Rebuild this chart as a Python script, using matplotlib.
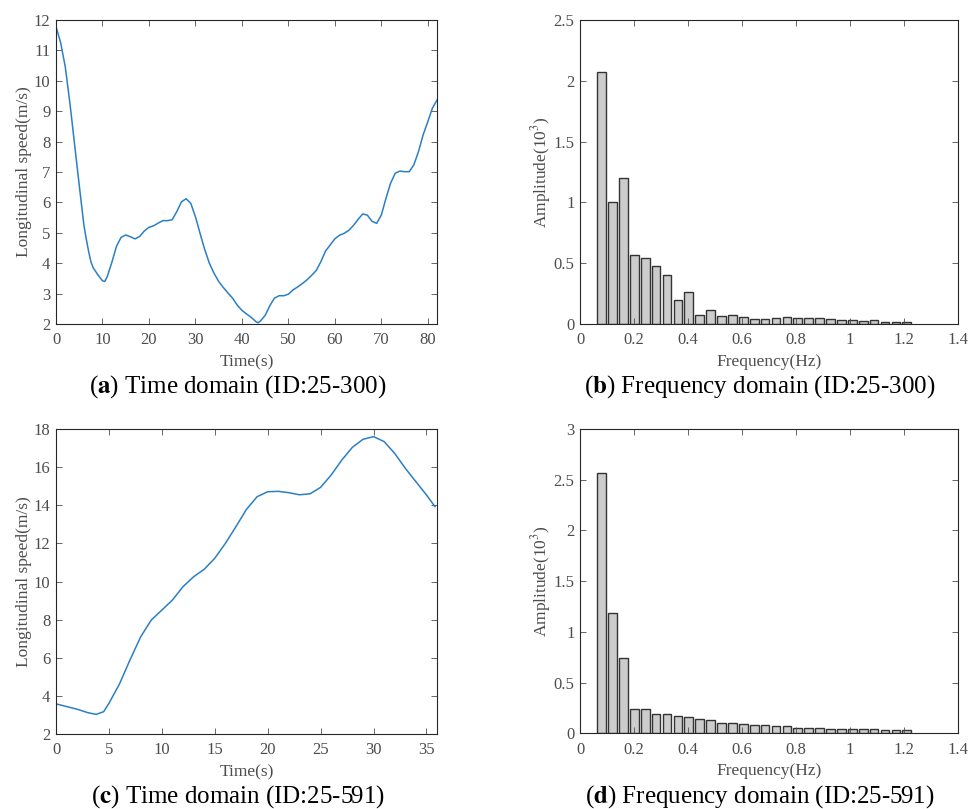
import numpy as np
import matplotlib
matplotlib.use("Agg")
import matplotlib.pyplot as plt

plt.rcParams["font.family"] = ["Liberation Serif", "DejaVu Serif"]
plt.rcParams["mathtext.fontset"] = "stix"

# (a) time domain, ID:25-300
t_a = [0, 1, 2, 3, 4, 5, 6, 6.5, 7, 7.5, 8, 9, 10, 10.5, 11, 12, 13, 14, 15, 16, 17,
       18, 19, 20, 21, 22, 23, 24, 25, 26, 27, 28, 29, 30, 31, 32, 33, 34, 35, 36, 37,
       38, 39, 40, 41, 42, 43, 43.5, 44, 45, 46, 47, 48, 49, 50, 51, 52, 53, 54, 55,
       56, 57, 58, 59, 60, 61, 62, 63, 64, 65, 66, 67, 68, 69, 70, 71, 72, 73, 74, 75,
       76, 77, 78, 79, 80, 81, 82]
v_a = [11.78, 11.25, 10.45, 9.25, 7.9, 6.56, 5.25, 4.8, 4.4, 4.05, 3.85, 3.62, 3.42,
       3.4, 3.55, 4.02, 4.55, 4.85, 4.93, 4.87, 4.8, 4.88, 5.06, 5.18, 5.23, 5.32,
       5.4, 5.4, 5.43, 5.7, 6.02, 6.12, 5.97, 5.53, 4.98, 4.45, 4.0, 3.67, 3.4, 3.2,
       3.02, 2.85, 2.62, 2.45, 2.33, 2.22, 2.08, 2.04, 2.1, 2.28, 2.6, 2.85, 2.93,
       2.93, 2.98, 3.12, 3.22, 3.33, 3.45, 3.6, 3.76, 4.05, 4.4, 4.6, 4.8, 4.92, 4.98,
       5.08, 5.24, 5.44, 5.62, 5.58, 5.38, 5.31, 5.58, 6.13, 6.63, 6.96, 7.03, 7.01,
       7.01, 7.23, 7.67, 8.22, 8.65, 9.1, 9.37]

# (c) time domain, ID:25-591
t_c = [0, 1, 2, 3, 3.8, 4.5, 5, 6, 7, 8, 9, 10, 11, 12, 13, 14, 15, 16, 17, 18, 19,
       20, 21, 22, 23, 24, 25, 26, 27, 28, 29, 30, 31, 32, 33, 34, 35, 35.8]
v_c = [3.58, 3.44, 3.3, 3.12, 3.03, 3.17, 3.61, 4.63, 5.9, 7.1, 7.98, 8.5, 9.03, 9.73,
       10.25, 10.64, 11.22, 12.0, 12.88, 13.79, 14.45, 14.71, 14.73, 14.66, 14.55, 14.6,
       14.94, 15.59, 16.37, 17.04, 17.46, 17.6, 17.34, 16.72, 15.94, 15.24, 14.54, 13.93]

# frequency bins (Hz)
freq = [0.080, 0.120, 0.161, 0.201, 0.242, 0.282, 0.322, 0.363, 0.403, 0.444,
        0.484, 0.524, 0.565, 0.605, 0.646, 0.686, 0.726, 0.767, 0.807, 0.848,
        0.888, 0.928, 0.969, 1.009, 1.050, 1.090, 1.130, 1.171, 1.211]

# (b) amplitude, ID:25-300 (x10^3)
amp_b = [2.07, 1.00, 1.20, 0.568, 0.54, 0.475, 0.40, 0.197, 0.263, 0.077, 0.115,
         0.066, 0.077, 0.055, 0.038, 0.038, 0.047, 0.058, 0.047, 0.047, 0.047, 0.038,
         0.030, 0.030, 0.022, 0.030, 0.019, 0.019, 0.019]

# (d) amplitude, ID:25-591 (x10^3)
amp_d = [2.57, 1.19, 0.747, 0.237, 0.237, 0.19, 0.19, 0.168, 0.158, 0.138, 0.128,
         0.102, 0.102, 0.092, 0.079, 0.079, 0.069, 0.069, 0.056, 0.056, 0.056, 0.046,
         0.046, 0.046, 0.046, 0.046, 0.036, 0.036, 0.036]

line_color = "#2a7fc6"
tick_color = "#4d4d4d"
fs = 12
lab_fs = 12.5


def style_axes(ax):
    ax.tick_params(direction="in", top=True, right=True, labelsize=fs,
                   colors=tick_color, length=4, width=0.6)
    ax.tick_params(axis="x", pad=6)
    ax.tick_params(axis="y", pad=4)
    for s in ax.spines.values():
        s.set_color("#262626")
        s.set_linewidth(0.8)


fig = plt.figure(figsize=(9.76, 8.09), dpi=100)

# (a)
ax_a = fig.add_axes([0.0574, 0.5995, 0.3904, 0.3758])
ax_a.plot(t_a, v_a, color=line_color, lw=1.1)
ax_a.set_xlim(0, 82)
ax_a.set_ylim(2, 12)
ax_a.set_xticks(range(0, 81, 10))
ax_a.set_yticks(range(2, 13))
ax_a.set_xlabel("Time(s)", fontsize=lab_fs, color=tick_color, labelpad=4)
ax_a.set_ylabel("Longitudinal speed(m/s)", fontsize=lab_fs, color=tick_color, labelpad=1)
style_axes(ax_a)

# (b)
ax_b = fig.add_axes([0.5943, 0.5995, 0.387, 0.3758])
ax_b.bar(freq, amp_b, width=0.0323, color="#cccccc", edgecolor="#333333", linewidth=1.0)
ax_b.set_xlim(0, 1.4)
ax_b.set_ylim(0, 2.5)
ax_b.set_xticks([0, 0.2, 0.4, 0.6, 0.8, 1, 1.2, 1.4])
ax_b.set_xticklabels(["0", "0.2", "0.4", "0.6", "0.8", "1", "1.2", "1.4"])
ax_b.set_yticks([0, 0.5, 1, 1.5, 2, 2.5])
ax_b.set_yticklabels(["0", "0.5", "1", "1.5", "2", "2.5"])
ax_b.set_xlabel("Frequency(Hz)", fontsize=lab_fs, color=tick_color, labelpad=4)
ax_b.set_ylabel("Amplitude(10$^{3}$)", fontsize=lab_fs, color=tick_color, labelpad=0)
style_axes(ax_b)

# (c)
ax_c = fig.add_axes([0.0574, 0.0927, 0.3904, 0.377])
ax_c.plot(t_c, v_c, color=line_color, lw=1.1)
ax_c.set_xlim(0, 36)
ax_c.set_ylim(2, 18)
ax_c.set_xticks(range(0, 36, 5))
ax_c.set_yticks(range(2, 19, 2))
ax_c.set_xlabel("Time(s)", fontsize=lab_fs, color=tick_color, labelpad=4)
ax_c.set_ylabel("Longitudinal speed(m/s)", fontsize=lab_fs, color=tick_color, labelpad=1)
style_axes(ax_c)

# (d)
ax_d = fig.add_axes([0.5943, 0.0936, 0.387, 0.3761])
ax_d.bar(freq, amp_d, width=0.0323, color="#cccccc", edgecolor="#333333", linewidth=1.0)
ax_d.set_xlim(0, 1.4)
ax_d.set_ylim(0, 3)
ax_d.set_xticks([0, 0.2, 0.4, 0.6, 0.8, 1, 1.2, 1.4])
ax_d.set_xticklabels(["0", "0.2", "0.4", "0.6", "0.8", "1", "1.2", "1.4"])
ax_d.set_yticks([0, 0.5, 1, 1.5, 2, 2.5, 3])
ax_d.set_yticklabels(["0", "0.5", "1", "1.5", "2", "2.5", "3"])
ax_d.set_xlabel("Frequency(Hz)", fontsize=lab_fs, color=tick_color, labelpad=4)
ax_d.set_ylabel("Amplitude(10$^{3}$)", fontsize=lab_fs, color=tick_color, labelpad=0)
style_axes(ax_d)

# captions
cap_fs = 18
captions = [
    (238 / 976, 1 - 387 / 809, "a", "Time domain (ID:25-300)"),
    (760 / 976, 1 - 387 / 809, "b", "Frequency domain (ID:25-300)"),
    (238 / 976, 1 - 797 / 809, "c", "Time domain (ID:25-591)"),
    (760 / 976, 1 - 797 / 809, "d", "Frequency domain (ID:25-591)"),
]
for x, y, letter, txt in captions:
    fig.text(x, y, "(" + r"$\mathbf{" + letter + "}$" + ") " + txt,
             ha="center", va="center", fontsize=cap_fs, color="black")

fig.savefig("out.png", dpi=100)
